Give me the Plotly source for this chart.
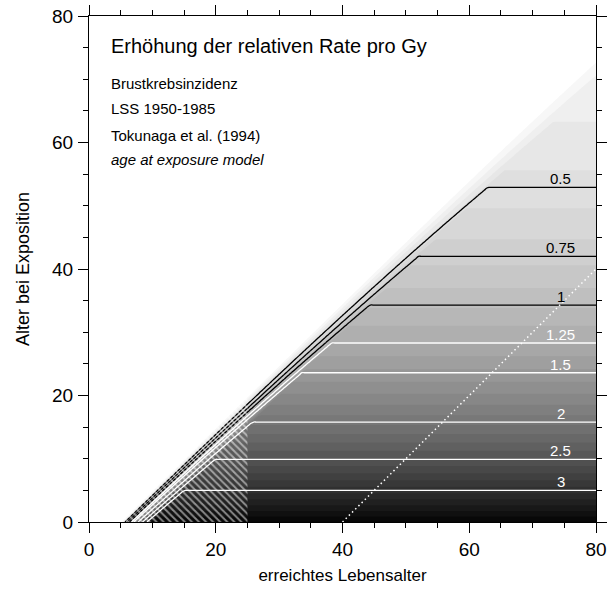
import numpy as np
import plotly.graph_objects as go

# Excess relative rate per Gy for breast cancer incidence (LSS 1950-1985,
# Tokunaga et al. 1994), plateau value by age at exposure
exposure_age = [0.0, 5.0, 9.9, 15.8, 23.6, 28.3, 34.3, 42.0, 52.9, 64.0, 80.0]
err_per_gy = [3.62, 3.0, 2.5, 2.0, 1.5, 1.25, 1.0, 0.75, 0.5, 0.33, 0.18]

# latency window (years after exposure): no excess before, full effect after
latency_min = 5.0
latency_full = 10.0

# labelled isolines
iso_levels = [0.5, 0.75, 1.0, 1.25, 1.5, 2.0, 2.5, 3.0]
iso_labels = ["0.5", "0.75", "1", "1.25", "1.5", "2", "2.5", "3"]
iso_dark = [True, True, True, False, False, False, False, False]

# attained ages below this are hatched
hatch_age = 25.0

# dotted reference line (attained age, age at exposure)
ref_line_x = [40.0, 80.0]
ref_line_y = [0.0, 40.0]

x_ticks = [0, 20, 40, 60, 80]
y_ticks = [0, 20, 40, 60, 80]

# ---- surface on an (attained age, age at exposure) grid ----
att = np.arange(0.0, 80.001, 0.4)
exp_age = np.arange(0.0, 80.001, 0.4)
log_err = np.interp(exp_age, exposure_age, np.log(err_per_gy))
plateau = np.exp(log_err)
since = att[None, :] - exp_age[:, None]
ramp = np.clip((since - latency_min) / (latency_full - latency_min), 0.0, 1.0)
z = np.round(plateau[:, None] * ramp, 4)

fig = go.Figure()

# grey bands
fig.add_trace(go.Contour(
    x=att, y=exp_age, z=z,
    colorscale=[[0, "#ffffff"], [1, "#000000"]],
    zmin=0, zmax=3.7, zauto=False,
    contours=dict(coloring="fill", start=0.113, end=3.62, size=0.113, showlines=False),
    line=dict(width=0, smoothing=0),
    showscale=False, hoverinfo="skip",
))

# isolines: black (0.5-1), white (1.25-1.5), white (2-3)
for start, end, size, col in [(0.5, 1.0, 0.25, "black"),
                              (1.25, 1.5, 0.25, "white"),
                              (2.0, 3.0, 0.5, "white")]:
    fig.add_trace(go.Contour(
        x=att, y=exp_age, z=z,
        contours=dict(coloring="none", start=start, end=end, size=size),
        line=dict(color=col, width=1.3, smoothing=1.3),
        showscale=False, hoverinfo="skip",
    ))

# hatched region of young attained ages
fig.add_trace(go.Scatter(
    x=[latency_min, hatch_age, hatch_age, latency_min],
    y=[0, 0, hatch_age - latency_min, 0],
    mode="lines", line=dict(width=0),
    fill="toself", fillcolor="rgba(0,0,0,0)",
    fillpattern=dict(shape="\\", fgcolor="white", bgcolor="rgba(0,0,0,0)",
                     size=5, solidity=0.4),
    hoverinfo="skip", showlegend=False,
))

# dotted reference line
fig.add_trace(go.Scatter(
    x=ref_line_x, y=ref_line_y, mode="lines",
    line=dict(color="white", width=1.5, dash="1.5px,3px"),
    hoverinfo="skip", showlegend=False,
))

sans = "Arial, Liberation Sans, sans-serif"

# isoline labels, placed on the plateau just above each line
for lvl, txt, dark in zip(iso_levels, iso_labels, iso_dark):
    y_plateau = float(np.interp(np.log(lvl), np.log(err_per_gy[::-1]), exposure_age[::-1]))
    fig.add_annotation(
        x=74.4, y=y_plateau,
        text=txt, showarrow=False, xanchor="center", yanchor="bottom", yshift=-2,
        font=dict(family=sans, size=15, color="black" if dark else "white"),
    )

fig.add_annotation(x=3.1, y=75.3, text="Erhöhung der relativen Rate pro Gy",
                   showarrow=False, xanchor="left", yanchor="middle",
                   font=dict(family=sans, size=20, color="black"))
for yy, txt in [(69.4, "Brustkrebsinzidenz"), (65.3, "LSS 1950-1985"),
                (61.1, "Tokunaga et al. (1994)"), (57.3, "<i>age at exposure model</i>")]:
    fig.add_annotation(x=3.1, y=yy, text=txt, showarrow=False,
                       xanchor="left", yanchor="middle",
                       font=dict(family=sans, size=15, color="black"))

axis_common = dict(
    range=[0, 80], showgrid=False, zeroline=False, automargin=False,
    showline=True, linecolor="black", linewidth=1, mirror="ticks",
    ticks="outside", ticklen=10, tickwidth=1, tickcolor="black",
    minor=dict(dtick=5, ticks="outside", ticklen=5, tickwidth=1, tickcolor="black"),
    tickfont=dict(family=sans, size=19, color="black"),
)
fig.update_xaxes(**axis_common, tickvals=x_ticks,
                 title=dict(text="erreichtes Lebensalter", standoff=10,
                            font=dict(family=sans, size=17, color="black")))
fig.update_yaxes(**axis_common, tickvals=y_ticks, ticklabelstandoff=1,
                 title=dict(text="Alter bei Exposition", standoff=17,
                            font=dict(family=sans, size=18, color="black")))

fig.update_layout(
    width=610, height=590,
    margin=dict(l=89, r=14, t=16, b=68),
    paper_bgcolor="white", plot_bgcolor="white",
    showlegend=False,
)

fig.write_html("out.html")
